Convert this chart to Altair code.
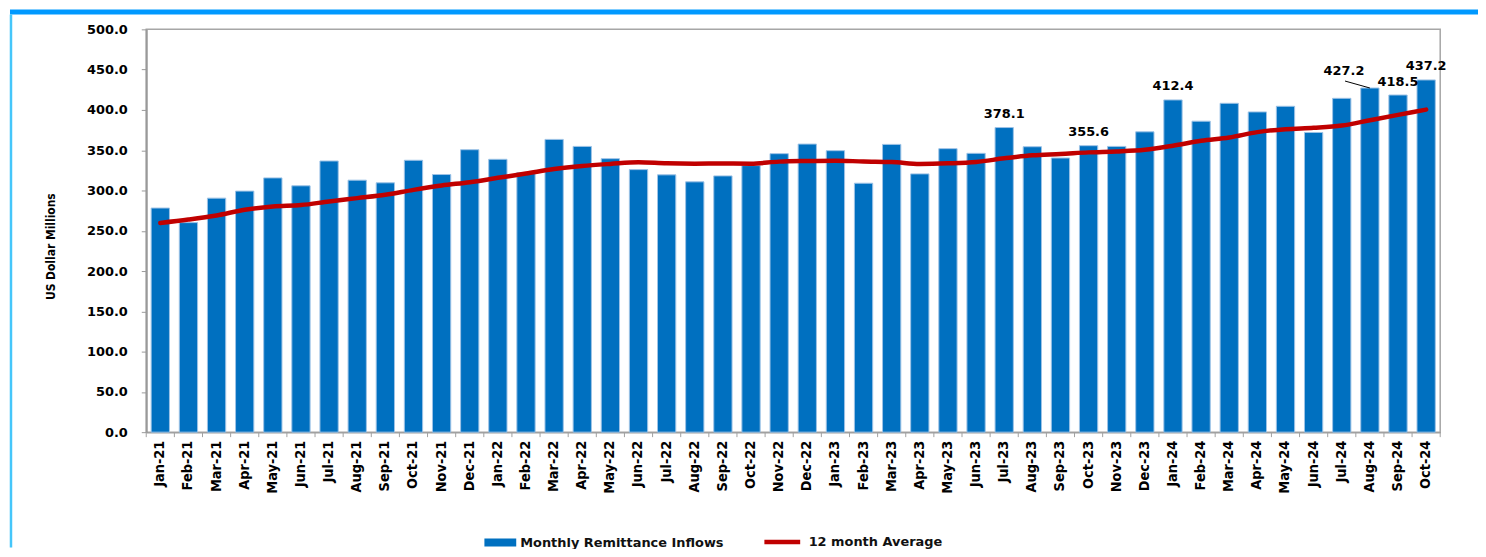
import altair as alt
import pandas as pd

months = [
    "Jan-21", "Feb-21", "Mar-21", "Apr-21", "May-21", "Jun-21", "Jul-21", "Aug-21", "Sep-21", "Oct-21", "Nov-21", "Dec-21",
    "Jan-22", "Feb-22", "Mar-22", "Apr-22", "May-22", "Jun-22", "Jul-22", "Aug-22", "Sep-22", "Oct-22", "Nov-22", "Dec-22",
    "Jan-23", "Feb-23", "Mar-23", "Apr-23", "May-23", "Jun-23", "Jul-23", "Aug-23", "Sep-23", "Oct-23", "Nov-23", "Dec-23",
    "Jan-24", "Feb-24", "Mar-24", "Apr-24", "May-24", "Jun-24", "Jul-24", "Aug-24", "Sep-24", "Oct-24",
]
inflows = [
    278.2, 260.1, 290.5, 299.2, 315.6, 305.8, 336.6, 312.8, 309.5, 337.5, 319.8, 350.6,
    338.7, 322.2, 363.4, 354.7, 339.5, 325.9, 319.4, 310.7, 318.1, 330.9, 345.7, 357.6,
    349.4, 309.0, 357.2, 320.6, 351.9, 346.1, 378.1, 354.3, 340.3, 355.6, 354.7, 372.8,
    412.4, 386.0, 408.2, 397.5, 404.5, 372.0, 414.4, 427.2, 418.5, 437.2,
]
avg12 = [
    259.7, 263.9, 269.0, 276.0, 280.2, 281.9, 286.4, 290.5, 294.6, 300.8, 306.2, 310.3,
    315.7, 321.0, 326.7, 330.5, 333.0, 335.0, 333.7, 333.3, 333.5, 333.3, 335.8, 336.6,
    337.0, 336.0, 335.4, 333.0, 333.7, 335.4, 339.9, 343.7, 345.3, 347.3, 348.5, 350.6,
    355.6, 361.7, 365.8, 372.4, 376.1, 377.8, 380.6, 387.2, 393.8, 400.4,
]
labeled_months = ["Jul-23", "Oct-23", "Jan-24", "Sep-24", "Oct-24"]
callout_month = "Aug-24"
series_names = ["Monthly Remittance Inflows", "12 month Average"]
y_ticks = [0, 50, 100, 150, 200, 250, 300, 350, 400, 450, 500]
y_title = "US Dollar Millions"

df = pd.DataFrame({"month": months, "inflow": inflows, "avg": avg12})
df["bar_series"] = series_names[0]
df["line_series"] = series_names[1]
one = pd.DataFrame({"k": [0]})

W, H = 1301, 405
step = W / len(months)

BOLD_SANS = "DejaVu Sans"
NARROW = "Liberation Sans Narrow, DejaVu Sans Condensed, sans-serif"

x_enc = alt.X(
    "month:N",
    sort=months,
    scale=alt.Scale(paddingInner=0.35, paddingOuter=0.175),
    axis=alt.Axis(
        title=None, labelAngle=-90, ticks=False, domain=True,
        domainColor="#A0A0A0", domainWidth=1.5,
        labelFont=NARROW, labelFontSize=14.5, labelFontWeight="bold",
        labelColor="#000000", labelPadding=8,
    ),
)
y_axis = alt.Axis(
    values=y_ticks, format=".1f", title=y_title, grid=False,
    domainColor="#999999", domainWidth=2, tickColor="#999999", tickSize=5, tickWidth=1,
    labelFont=BOLD_SANS, labelFontWeight="bold", labelFontSize=13, labelPadding=14,
    labelColor="#000000",
    titleFont="DejaVu Sans Condensed", titleFontSize=12, titleFontWeight="bold", titleColor="#000000",
    titleX=-96, titleY=218, titleAngle=270, titleAlign="center", titleBaseline="middle",
)
y_scale = alt.Scale(domain=[0, 500], nice=False, zero=True)

bars = alt.Chart(df).mark_bar(stroke="#9DC3E6", strokeWidth=1).encode(
    x=x_enc,
    y=alt.Y("inflow:Q", scale=y_scale, axis=y_axis),
    fill=alt.Fill(
        "bar_series:N",
        scale=alt.Scale(domain=[series_names[0]], range=["#0070C0"]),
        legend=alt.Legend(
            orient="none", legendX=340, legendY=500, title=None, padding=0,
            symbolType="M-1,-0.25L1,-0.25L1,0.25L-1,0.25Z", symbolSize=1024,
            symbolStrokeWidth=0, labelFont=BOLD_SANS, labelFontWeight="bold",
            labelFontSize=13, labelColor="#111111", labelOffset=4, labelLimit=0,
        ),
    ),
)

line = alt.Chart(df).mark_line(strokeWidth=4.5, strokeCap="round", strokeJoin="round", interpolate="monotone").encode(
    x=x_enc,
    y=alt.Y("avg:Q", scale=y_scale, axis=y_axis),
    stroke=alt.Stroke(
        "line_series:N",
        scale=alt.Scale(domain=[series_names[1]], range=["#C00000"]),
        legend=alt.Legend(
            orient="none", legendX=619, legendY=495, title=None, padding=0,
            symbolType="stroke", symbolSize=1296, symbolStrokeWidth=4.5,
            labelFont=BOLD_SANS, labelFontWeight="bold",
            labelFontSize=13, labelColor="#111111", labelOffset=6, labelLimit=0,
        ),
    ),
)

labels = alt.Chart(df).transform_filter(
    alt.FieldOneOfPredicate(field="month", oneOf=labeled_months)
).mark_text(font=BOLD_SANS, fontWeight="bold", fontSize=13, color="#000000", baseline="alphabetic", dy=-9.5).encode(
    x=x_enc,
    y=alt.Y("inflow:Q", scale=y_scale, axis=y_axis),
    text=alt.Text("inflow:Q", format=".1f"),
)

callout = alt.Chart(df).transform_filter(
    alt.FieldEqualPredicate(field="month", equal=callout_month)
).mark_text(font=BOLD_SANS, fontWeight="bold", fontSize=13, color="#000000", baseline="alphabetic", dx=-26, dy=-13).encode(
    x=x_enc,
    y=alt.Y("inflow:Q", scale=y_scale, axis=y_axis),
    text=alt.Text("inflow:Q", format=".1f"),
)

leader = alt.Chart(df).transform_filter(
    alt.FieldEqualPredicate(field="month", equal=callout_month)
).mark_rule(color="#000000", strokeWidth=1, xOffset=-25, yOffset=-7, x2Offset=0, y2Offset=0).encode(
    x=x_enc,
    x2=alt.X2("month"),
    y=alt.Y("inflow:Q", scale=y_scale, axis=y_axis),
    y2=alt.Y2("inflow"),
)

ticks = alt.Chart(df).mark_rule(color="#A0A0A0", strokeWidth=1, xOffset=-step / 2).encode(
    x=x_enc, y=alt.value(H), y2=alt.value(H + 5),
)
last_tick = alt.Chart(df).transform_filter(
    alt.FieldEqualPredicate(field="month", equal=months[-1])
).mark_rule(color="#A0A0A0", strokeWidth=1, xOffset=step / 2).encode(
    x=x_enc, y=alt.value(H), y2=alt.value(H + 5),
)

top_band = alt.Chart(one).mark_rect(color="#0099FF").encode(
    x=alt.value(-137), x2=alt.value(1339), y=alt.value(-20), y2=alt.value(-15),
)
left_border = alt.Chart(one).mark_rule(color="#45C6FA", strokeWidth=2.5).encode(
    x=alt.value(-136), y=alt.value(-15), y2=alt.value(521),
)

chart = alt.layer(
    top_band, left_border, bars, line, ticks, last_tick, labels, callout, leader,
).resolve_scale(fill="independent", stroke="independent").properties(
    width=W, height=H,
    padding={"left": 139, "top": 20, "right": 38, "bottom": 116},
    autosize=alt.AutoSizeParams(type="none"),
    background="white",
).configure_view(stroke="#A6A6A6", strokeWidth=1.5)

chart.save("out.html", embed_options={"renderer": "svg", "actions": False})
